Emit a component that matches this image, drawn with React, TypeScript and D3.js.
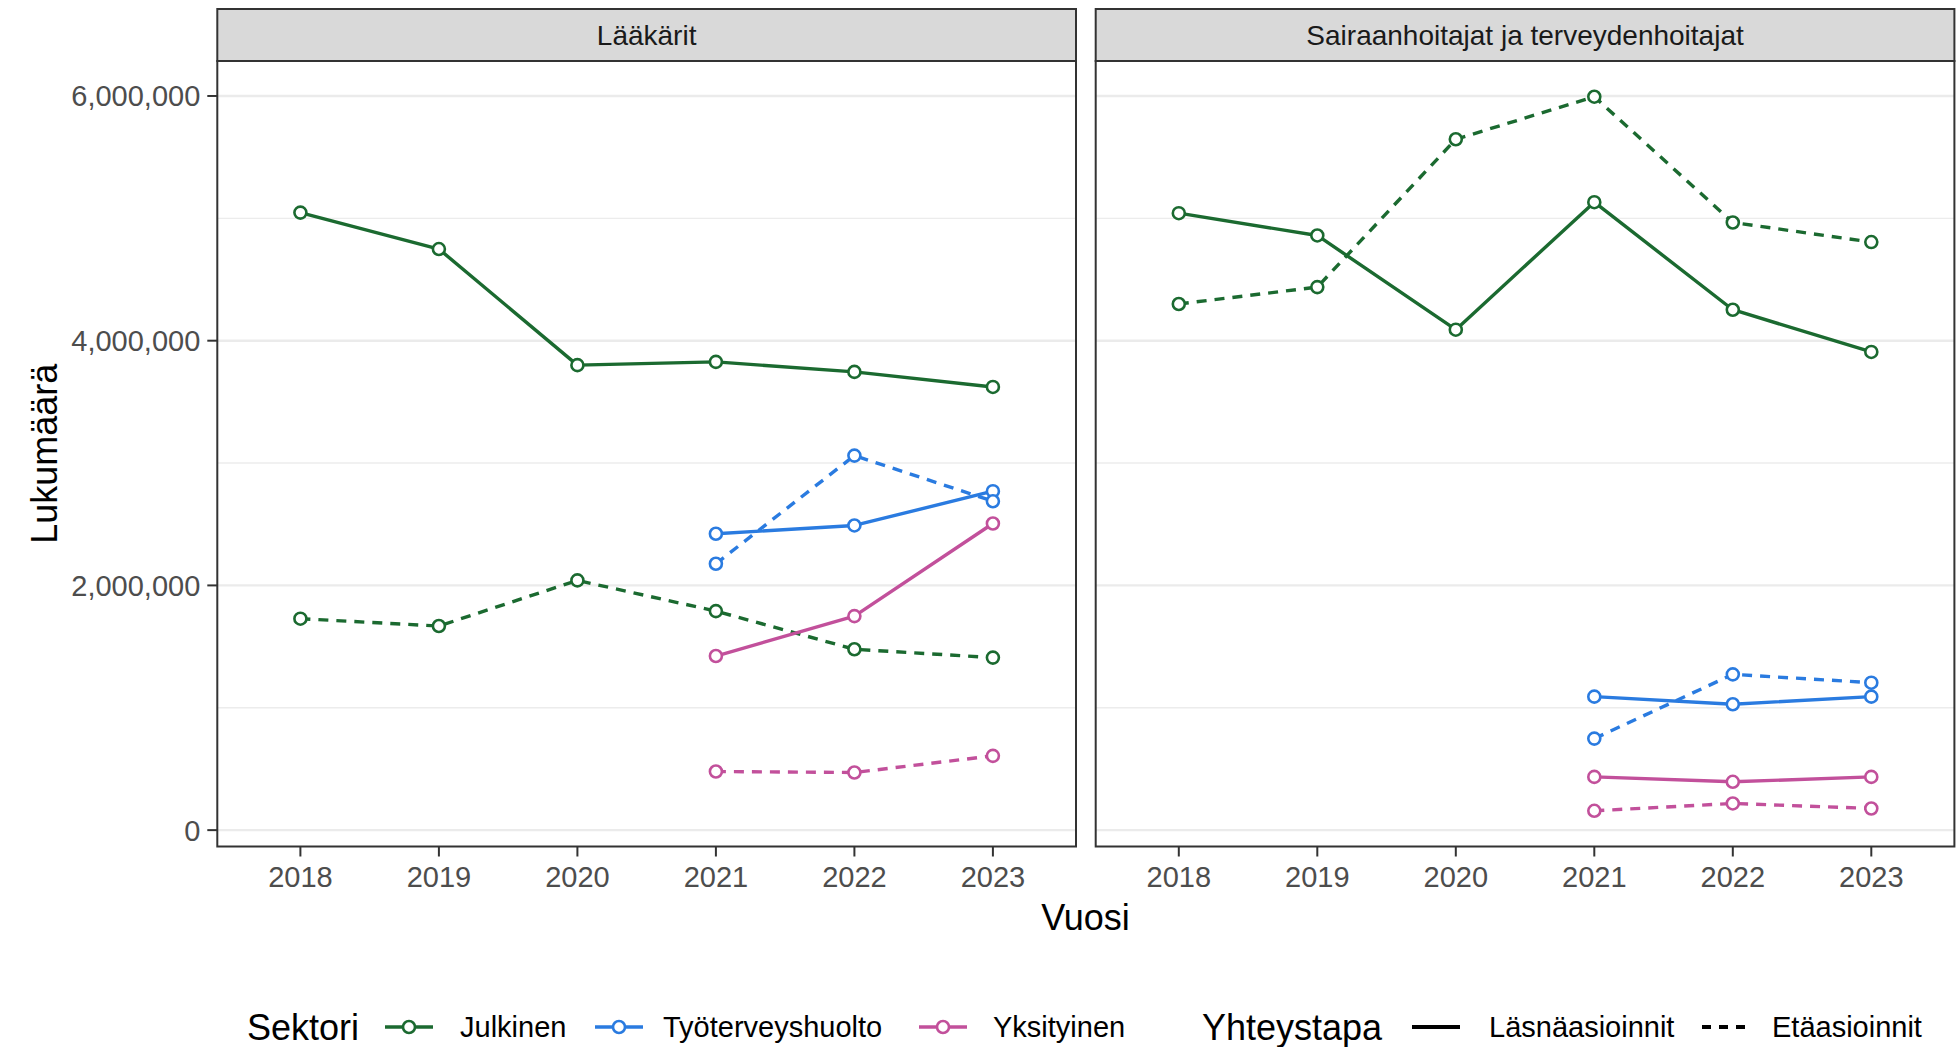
import React from "react";
import * as d3 from "d3";

const years = ["2018", "2019", "2020", "2021", "2022", "2023"];
const panels = ["Lääkärit", "Sairaanhoitajat ja terveydenhoitajat"];
const sectors = ["Julkinen", "Työterveyshuolto", "Yksityinen"];
const modes = ["Läsnäasioinnit", "Etäasioinnit"];
const sectorColors = ["#1b6a30", "#2a7be0", "#c2509b"];
const yTicks = [0, 2000000, 4000000, 6000000];
const yMinor = [1000000, 3000000, 5000000];

// Lääkärit (values in millions; null = no data)
const laakJulkinenLasna = [5.047, 4.749, 3.8, 3.827, 3.745, 3.622];
const laakJulkinenEta = [1.728, 1.668, 2.041, 1.79, 1.478, 1.41];
const laakTyoLasna = [null, null, null, 2.422, 2.49, 2.77];
const laakTyoEta = [null, null, null, 2.177, 3.061, 2.688];
const laakYksLasna = [null, null, null, 1.423, 1.749, 2.506];
const laakYksEta = [null, null, null, 0.479, 0.471, 0.607];

// Sairaanhoitajat ja terveydenhoitajat
const sairJulkinenLasna = [5.042, 4.86, 4.09, 5.132, 4.253, 3.908];
const sairJulkinenEta = [4.3, 4.438, 5.646, 5.994, 4.966, 4.806];
const sairTyoLasna = [null, null, null, 1.091, 1.029, 1.091];
const sairTyoEta = [null, null, null, 0.748, 1.273, 1.205];
const sairYksLasna = [null, null, null, 0.435, 0.395, 0.435];
const sairYksEta = [null, null, null, 0.158, 0.218, 0.177];

type Series = { panel: number; sector: number; mode: number; values: (number | null)[] };

const series: Series[] = [
  { panel: 0, sector: 0, mode: 0, values: laakJulkinenLasna },
  { panel: 0, sector: 0, mode: 1, values: laakJulkinenEta },
  { panel: 0, sector: 1, mode: 0, values: laakTyoLasna },
  { panel: 0, sector: 1, mode: 1, values: laakTyoEta },
  { panel: 0, sector: 2, mode: 0, values: laakYksLasna },
  { panel: 0, sector: 2, mode: 1, values: laakYksEta },
  { panel: 1, sector: 0, mode: 0, values: sairJulkinenLasna },
  { panel: 1, sector: 0, mode: 1, values: sairJulkinenEta },
  { panel: 1, sector: 1, mode: 0, values: sairTyoLasna },
  { panel: 1, sector: 1, mode: 1, values: sairTyoEta },
  { panel: 1, sector: 2, mode: 0, values: sairYksLasna },
  { panel: 1, sector: 2, mode: 1, values: sairYksEta },
];

const W = 1957;
const H = 1047;
const FONT = "'Liberation Sans', Arial, Helvetica, sans-serif";
const panelLefts = [217.3, 1095.7];
const panelW = 858.7;
const stripTop = 9;
const stripBottom = 61;
const panelBottom = 846.5;
const DASH = "10 8";
const LW = 3.4;

export default function App() {
  const all: number[] = [];
  series.forEach((s) => s.values.forEach((v) => v != null && all.push(v * 1e6)));
  const mn = d3.min(all)!;
  const mx = d3.max(all)!;
  const pad = (mx - mn) * 0.05;
  const y = d3.scaleLinear().domain([mn - pad, mx + pad]).range([panelBottom, stripBottom]);
  const fmt = d3.format(",");

  const legendY = 1027;
  const sectorKeys = [
    { keyX: 385, textX: 460 },
    { keyX: 595, textX: 663 },
    { keyX: 919, textX: 993 },
  ];
  const modeKeys = [
    { keyX: 1412, textX: 1489 },
    { keyX: 1702, textX: 1772 },
  ];
  const keyW = 48;

  return (
    <svg
      width={W}
      height={H}
      style={{ position: "absolute", left: 0, top: 0, background: "#fff" }}
      fontFamily={FONT}
    >
      <rect x={0} y={0} width={W} height={H} fill="#fff" />
      {panels.map((p, pi) => {
        const x0 = panelLefts[pi];
        const x = d3.scalePoint<string>().domain(years).range([x0, x0 + panelW]).padding(0.6);
        const line = d3
          .line<number | null>()
          .defined((d) => d != null)
          .x((_, i) => x(years[i])!)
          .y((d) => y((d as number) * 1e6));
        const ps = series.filter((s) => s.panel === pi);
        return (
          <g key={p}>
            <rect x={x0} y={stripBottom} width={panelW} height={panelBottom - stripBottom} fill="#fff" />
            {yMinor.map((t) => (
              <line key={"m" + t} x1={x0} x2={x0 + panelW} y1={y(t)} y2={y(t)} stroke="#ececec" strokeWidth={1.4} />
            ))}
            {yTicks.map((t) => (
              <line key={"g" + t} x1={x0} x2={x0 + panelW} y1={y(t)} y2={y(t)} stroke="#ebebeb" strokeWidth={2.4} />
            ))}
            {ps.map((s, i) => (
              <path
                key={"l" + i}
                d={line(s.values) || ""}
                fill="none"
                stroke={sectorColors[s.sector]}
                strokeWidth={LW}
                strokeDasharray={s.mode === 1 ? DASH : undefined}
                strokeLinejoin="round"
              />
            ))}
            {ps.map((s, i) =>
              s.values.map((v, j) =>
                v == null ? null : (
                  <circle
                    key={"c" + i + "-" + j}
                    cx={x(years[j])}
                    cy={y(v * 1e6)}
                    r={6}
                    fill="#fff"
                    stroke={sectorColors[s.sector]}
                    strokeWidth={2.6}
                  />
                )
              )
            )}
            <rect
              x={x0}
              y={stripBottom}
              width={panelW}
              height={panelBottom - stripBottom}
              fill="none"
              stroke="#333"
              strokeWidth={2}
            />
            <rect
              x={x0}
              y={stripTop}
              width={panelW}
              height={stripBottom - stripTop}
              fill="#d9d9d9"
              stroke="#333"
              strokeWidth={2}
            />
            <text
              x={x0 + panelW / 2}
              y={(stripTop + stripBottom) / 2}
              dy="0.36em"
              textAnchor="middle"
              fontSize={28}
              fill="#1a1a1a"
            >
              {p}
            </text>
            {years.map((yr) => (
              <g key={yr}>
                <line x1={x(yr)} x2={x(yr)} y1={panelBottom} y2={panelBottom + 10} stroke="#333" strokeWidth={2} />
                <text x={x(yr)} y={887} textAnchor="middle" fontSize={29} fill="#4d4d4d">
                  {yr}
                </text>
              </g>
            ))}
          </g>
        );
      })}
      {yTicks.map((t) => (
        <g key={"yt" + t}>
          <line x1={panelLefts[0] - 10} x2={panelLefts[0]} y1={y(t)} y2={y(t)} stroke="#333" strokeWidth={2} />
          <text x={panelLefts[0] - 17} y={y(t)} dy="0.36em" textAnchor="end" fontSize={29} fill="#4d4d4d">
            {fmt(t)}
          </text>
        </g>
      ))}
      <text x={1085.5} y={930} textAnchor="middle" fontSize={36} fill="#000">
        Vuosi
      </text>
      <text
        transform={`translate(57, ${(stripBottom + panelBottom) / 2}) rotate(-90)`}
        textAnchor="middle"
        fontSize={36}
        fill="#000"
      >
        Lukumäärä
      </text>

      {/* Legend */}
      <text x={247} y={legendY + 13} fontSize={36} fill="#000">
        Sektori
      </text>
      {sectors.map((s, i) => (
        <g key={s}>
          <line
            x1={sectorKeys[i].keyX}
            x2={sectorKeys[i].keyX + keyW}
            y1={legendY}
            y2={legendY}
            stroke={sectorColors[i]}
            strokeWidth={LW}
          />
          <circle
            cx={sectorKeys[i].keyX + keyW / 2}
            cy={legendY}
            r={6}
            fill="#fff"
            stroke={sectorColors[i]}
            strokeWidth={2.6}
          />
          <text x={sectorKeys[i].textX} y={legendY + 10} fontSize={29} fill="#000">
            {s}
          </text>
        </g>
      ))}
      <text x={1202} y={legendY + 13} fontSize={36} fill="#000">
        Yhteystapa
      </text>
      {modes.map((m, i) => (
        <g key={m}>
          <line
            x1={modeKeys[i].keyX}
            x2={modeKeys[i].keyX + keyW}
            y1={legendY}
            y2={legendY}
            stroke="#000"
            strokeWidth={LW + 0.6}
            strokeDasharray={i === 1 ? "9 8" : undefined}
          />
          <text x={modeKeys[i].textX} y={legendY + 10} fontSize={29} fill="#000">
            {m}
          </text>
        </g>
      ))}
    </svg>
  );
}
